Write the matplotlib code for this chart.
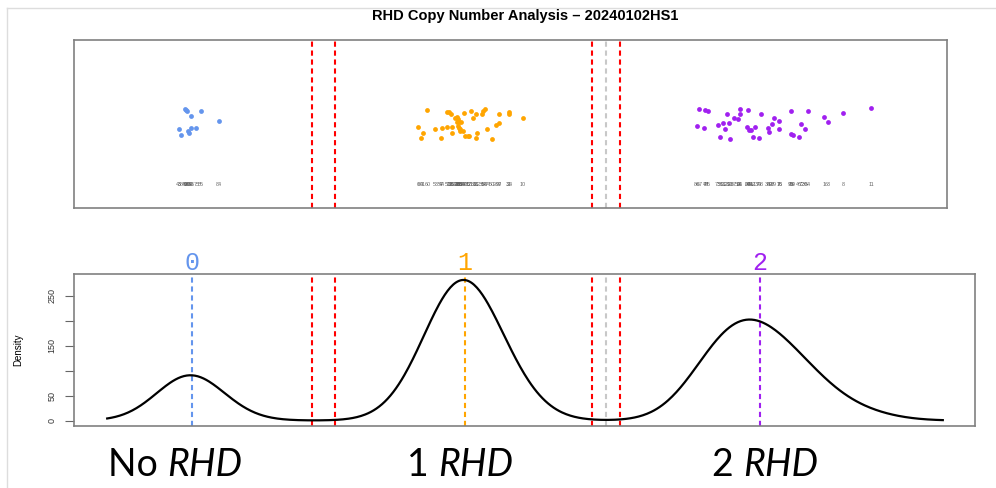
import numpy as np
import matplotlib
matplotlib.use("Agg")
import matplotlib.pyplot as plt
from matplotlib.lines import Line2D
from matplotlib.offsetbox import TextArea, HPacker, AnnotationBbox

# Razao de leituras RHD (em por mil) de cada amostra, por grupo de copias
blue_x = [0.240, 0.277, 0.491, 0.341, 0.784, 0.139, 0.341, 0.421, 0.288, 0.309, 0.181, 0.256]
blue_y = [0.589, 0.579, 0.577, 0.549, 0.518, 0.470, 0.478, 0.478, 0.460, 0.448, 0.435, 0.583]
blue_ids = [46, 90, 55, 30, 84, 43, 96, 75, 39, 88, 38, 92]

orange_x = [4.117, 4.427, 4.469, 4.491, 4.709, 4.816, 4.891, 5.013, 5.035, 4.992,
            4.853, 4.587, 4.608, 4.629, 4.587, 5.259, 5.419, 5.429, 5.643, 3.973,
            4.245, 4.352, 4.427, 4.512, 4.619, 4.635, 4.683, 4.725, 4.763, 4.779,
            4.917, 5.077, 5.216, 5.269, 4.053, 4.011, 4.331, 4.507, 4.640, 4.896,
            5.152, 4.560, 4.661, 4.603]
orange_y = [0.583, 0.573, 0.573, 0.558, 0.564, 0.579, 0.560, 0.577, 0.589, 0.558,
            0.534, 0.544, 0.530, 0.514, 0.514, 0.558, 0.569, 0.562, 0.536, 0.484,
            0.470, 0.476, 0.480, 0.482, 0.474, 0.460, 0.460, 0.429, 0.427, 0.429,
            0.444, 0.472, 0.494, 0.504, 0.444, 0.417, 0.417, 0.448, 0.468, 0.419,
            0.413, 0.534, 0.514, 0.486]
orange_ids = [60, 5, 18, 33, 47, 71, 2, 14, 58, 36, 81, 22, 49, 65, 77, 97, 31, 24, 10, 6,
              53, 44, 7, 26, 93, 68, 19, 40, 85, 12, 62, 74, 28, 9, 41, 80, 57, 15, 35, 87,
              50, 20, 82, 25]

purple_x = [8.469, 8.565, 8.608, 8.917, 9.115, 9.248, 9.019, 9.088, 8.949, 9.120,
            9.456, 8.843, 8.768, 8.432, 8.549, 8.875, 8.805, 8.965, 9.237, 9.269,
            9.296, 9.365, 9.328, 9.419, 9.568, 9.589, 9.627, 9.664, 9.749, 9.749,
            9.941, 10.208, 9.931, 9.963, 10.069, 10.101, 10.160, 10.464, 10.528, 10.768,
            11.221]
purple_y = [0.589, 0.585, 0.579, 0.562, 0.587, 0.583, 0.534, 0.530, 0.508, 0.558,
            0.558, 0.508, 0.494, 0.486, 0.478, 0.472, 0.423, 0.411, 0.482, 0.466,
            0.466, 0.480, 0.423, 0.417, 0.474, 0.454, 0.498, 0.538, 0.520, 0.470,
            0.579, 0.577, 0.442, 0.436, 0.423, 0.502, 0.468, 0.540, 0.512, 0.567,
            0.593]
purple_ids = [67, 78, 45, 21, 94, 29, 37, 52, 99, 61, 48, 17, 73, 86, 4, 32, 56, 23, 64, 79,
              91, 13, 42, 70, 34, 59, 27, 89, 16, 76, 83, 54, 95, 69, 46, 72, 39, 1, 63, 8, 11]

# medias dos grupos e limites de corte (por mil)
cluster_means = [0.352, 4.72, 9.44]
cluster_names = ["0", "1", "2"]
red_cuts = [2.272, 2.64, 6.752, 7.2]
gray_cut = [6.976]

bandwidth = 0.52
title = "RHD Copy Number Analysis \u2013 20240102HS1"
captions = [("No ", "RHD"), ("1 ", "RHD"), ("2 ", "RHD")]
caption_x = [0.1755, 0.4615, 0.768]

colors = ["#6495ED", "#FFA500", "#A020F0"]
dash = (0, (2.5, 1.8))


def kde(values, bw, grid):
    d = (grid[:, None] - values[None, :]) / bw
    return np.exp(-0.5 * d ** 2).sum(axis=1) / (len(values) * bw * np.sqrt(2 * np.pi))


def main():
    plt.rcParams["font.family"] = ["Liberation Sans", "DejaVu Sans"]

    fig = plt.figure(figsize=(9.96, 4.88), dpi=100)

    # moldura clara do slide
    fig.add_artist(Line2D([7 / 996, 1], [1 - 8 / 488, 1 - 8 / 488], color="#dddddd", lw=1))
    fig.add_artist(Line2D([7 / 996, 7 / 996], [0, 1 - 8 / 488], color="#dddddd", lw=1))

    fig.text(525 / 996, 1 - 16 / 488, title, ha="center", va="center",
             fontsize=10.5, fontweight="bold")

    # painel de cima: pontos das amostras
    ax1 = fig.add_axes([74 / 996, 1 - 208 / 488, 873 / 996, 168 / 488])
    groups = [(blue_x, blue_y, blue_ids), (orange_x, orange_y, orange_ids),
              (purple_x, purple_y, purple_ids)]
    for (gx, gy, gid), c in zip(groups, colors):
        ax1.scatter(gx, gy, s=12, color=c, linewidths=0, zorder=3)
        for xv, idv in zip(gx, gid):
            ax1.text(xv, 0.137, str(idv), ha="center", va="center",
                     fontsize=3.9, color="#666666")
    for xv in red_cuts:
        ax1.axvline(xv, color="red", lw=1.5, linestyle=dash)
    for xv in gray_cut:
        ax1.axvline(xv, color="#c8c8c8", lw=1.5, linestyle=dash)
    ax1.set_xlim(-1.536, 12.432)
    ax1.set_ylim(0, 1)
    ax1.set_xticks([])
    ax1.set_yticks([])

    # painel de baixo: densidade
    ax2 = fig.add_axes([74 / 996, 1 - 426 / 488, 901 / 996, 152 / 488])
    all_x = np.concatenate([blue_x, orange_x, purple_x])
    grid = np.linspace(all_x.min() - 2.2 * bandwidth, all_x.max() + 2.2 * bandwidth, 600)
    # densidade na escala da razao (nao por mil)
    dens = kde(all_x / 1000, bandwidth / 1000, grid / 1000)
    ax2.plot(grid, dens, color="black", lw=1.6, zorder=4)

    for xv, name, c in zip(cluster_means, cluster_names, colors):
        ax2.axvline(xv, color=c, lw=1.5, linestyle=dash)
        ax2.text(xv, 1.075, name, transform=ax2.get_xaxis_transform(),
                 ha="center", va="center", color=c, fontsize=18,
                 family="Liberation Mono")
    for xv in red_cuts:
        ax2.axvline(xv, color="red", lw=1.5, linestyle=dash)
    for xv in gray_cut:
        ax2.axvline(xv, color="#c8c8c8", lw=1.5, linestyle=dash)

    ax2.set_xlim(-1.536, 12.88)
    ax2.set_ylim(-11, 294)
    ax2.set_xticks([])
    ax2.set_yticks([0, 50, 100, 150, 200, 250])
    ax2.set_yticklabels(["0", "50", "", "150", "", "250"], rotation=90, va="center")
    ax2.tick_params(axis="y", labelsize=6.5, length=6.5, width=0.8,
                    color="#666666", labelcolor="#333333", pad=6)
    ax2.set_ylabel("Density", fontsize=7)
    ax2.yaxis.set_label_coords(-51 / 901, 0.5)

    for ax in (ax1, ax2):
        for sp in ax.spines.values():
            sp.set_color("#808080")
            sp.set_linewidth(1.2)

    # legendas de baixo: "No RHD", "1 RHD", "2 RHD"
    for (plain, ital), xc in zip(captions, caption_x):
        t1 = TextArea(plain, textprops=dict(family="Lato", fontsize=27, color="black"))
        t2 = TextArea(ital, textprops=dict(family="Lato", fontsize=27, style="italic",
                                           color="black"))
        box = HPacker(children=[t1, t2], align="baseline", pad=0, sep=0)
        ab = AnnotationBbox(box, (xc, 1 - 465 / 488), xycoords="figure fraction",
                            frameon=False, box_alignment=(0.5, 0.5))
        fig.add_artist(ab)

    fig.savefig("out.png", dpi=100)


if __name__ == "__main__":
    main()
